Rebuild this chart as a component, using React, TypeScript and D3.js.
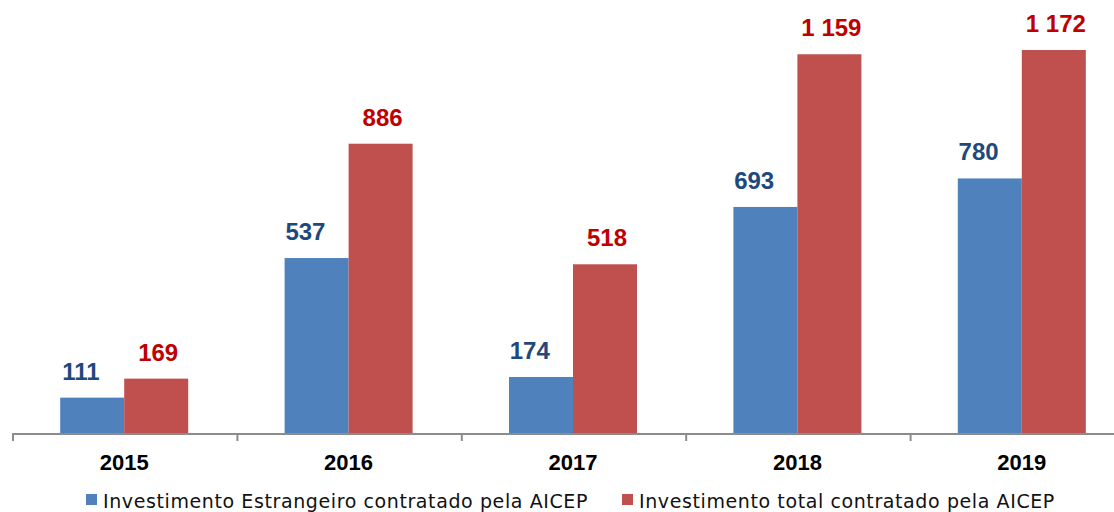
import * as d3 from "d3";

const years = ["2015", "2016", "2017", "2018", "2019"];
const estrangeiro = [111, 537, 174, 693, 780];
const total = [169, 886, 518, 1159, 1172];
const seriesNames = [
  "Investimento Estrangeiro contratado pela AICEP",
  "Investimento total contratado pela AICEP",
];

const width = 1114;
const height = 512;
const axisY = 434;
const barColors = ["#4F81BD", "#C0504D"];
const labelColors = ["#1F497D", "#C00000"];

// "1 159" style thousands separator
const fmt = (v: number) => d3.format(",")(v).replace(/,/g, " ");

export default function App() {
  const step = 224.4;
  const x0 = d3.scaleBand().domain(years).range([12, 12 + step * years.length]);
  const x1 = d3
    .scaleBand()
    .domain(["0", "1"])
    .range([0, x0.bandwidth()])
    .paddingOuter(0.753);
  const y = d3.scaleLinear().domain([0, 1172]).range([axisY, 50]);

  const series = [estrangeiro, total];

  return (
    <svg
      width={width}
      height={height}
      style={{ position: "absolute", left: 0, top: 0, background: "#fff" }}
    >
      {series.map((vals, s) => (
        <g key={s} fill={barColors[s]}>
          {vals.map((v, i) => (
            <rect
              key={i}
              x={x0(years[i])! + x1(String(s))!}
              y={y(v)}
              width={x1.bandwidth()}
              height={y(0) - y(v)}
            />
          ))}
        </g>
      ))}

      {series.map((vals, s) => (
        <g
          key={s}
          fill={labelColors[s]}
          fontFamily="'Liberation Sans', Arial, sans-serif"
          fontWeight="bold"
          fontSize={24}
          textAnchor="middle"
        >
          {vals.map((v, i) => {
            const cx = x0(years[i])! + x1(String(s))! + x1.bandwidth() / 2;
            const lx = s === 0 ? Math.max(cx - 34, x0(years[i])! + 69) : cx + 2;
            return (
              <text key={i} x={lx} y={y(v) - 18}>
                {fmt(v)}
              </text>
            );
          })}
        </g>
      ))}

      {/* axis */}
      <line x1={12} x2={width} y1={axisY} y2={axisY} stroke="#8C8C8C" strokeWidth={2} />
      {years.map((yr) => (
        <line
          key={yr}
          x1={x0(yr)! + 1}
          x2={x0(yr)! + 1}
          y1={axisY}
          y2={axisY + 7}
          stroke="#8C8C8C"
          strokeWidth={2}
        />
      ))}
      <g
        fontFamily="'Liberation Sans', Arial, sans-serif"
        fontWeight="bold"
        fontSize={22}
        textAnchor="middle"
        fill="#000"
      >
        {years.map((yr) => (
          <text key={yr} x={x0(yr)! + x0.bandwidth() / 2} y={470}>
            {yr}
          </text>
        ))}
      </g>

      {/* legend */}
      <g fontFamily="'DejaVu Sans', Verdana, sans-serif" fontSize={19} fill="#111">
        {seriesNames.map((name, s) => {
          const lx = s === 0 ? 86 : 622;
          return (
            <g key={s}>
              <rect x={lx} y={494} width={11} height={11} fill={barColors[s]} />
              <text x={lx + 17} y={508} letterSpacing={0.6}>
                {name}
              </text>
            </g>
          );
        })}
      </g>
    </svg>
  );
}
